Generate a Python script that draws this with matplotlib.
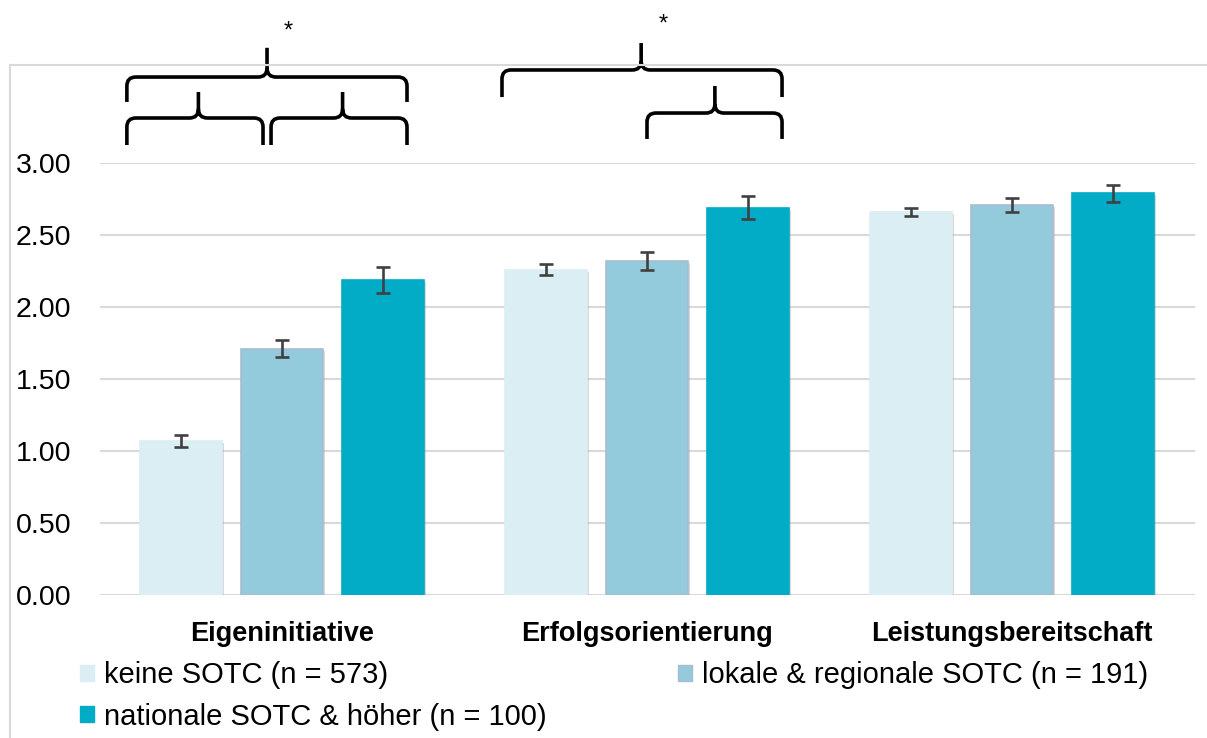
import numpy as np
import matplotlib
matplotlib.use("Agg")
import matplotlib.pyplot as plt
from matplotlib.path import Path
from matplotlib.patches import PathPatch, Patch
from matplotlib.lines import Line2D
import matplotlib.patheffects as pe
import matplotlib.transforms as mtransforms

plt.rcParams['font.family'] = ['Liberation Sans', 'DejaVu Sans']

# ---- data ----
categories = ["Eigeninitiative", "Erfolgsorientierung", "Leistungsbereitschaft"]
series_names = ["keine SOTC (n = 573)", "lokale & regionale SOTC (n = 191)",
                "nationale SOTC & höher (n = 100)"]
keine = [1.07, 2.26, 2.66]
lokale = [1.71, 2.32, 2.71]
nationale = [2.19, 2.69, 2.79]
keine_err = [0.04, 0.04, 0.03]
lokale_err = [0.06, 0.06, 0.05]
nationale_err = [0.09, 0.08, 0.06]
ytick_values = [0.0, 0.5, 1.0, 1.5, 2.0, 2.5, 3.0]

colors = ["#DAEEF3", "#94CBDC", "#02ACC7"]
edges = ["#DAEEF3", "#A9BCCD", "#02ACC7"]

W, H = 1207, 738
fig = plt.figure(figsize=(W / 100, H / 100), dpi=100)
ax_left, ax_right, ax_bottom, ax_top = 99.5, 1194.5, 595, 163
ax = fig.add_axes([ax_left / W, 1 - ax_bottom / H, (ax_right - ax_left) / W,
                   (ax_bottom - ax_top) / H])

x = np.arange(len(categories))
step, width = 0.277, 0.225
series = [keine, lokale, nationale]
errs = [keine_err, lokale_err, nationale_err]
bar_handles = []
for i, (vals, err) in enumerate(zip(series, errs)):
    pos = x + (i - 1) * step
    bars = ax.bar(pos, vals, width, color=colors[i], edgecolor=edges[i],
                  linewidth=1.2, zorder=3)
    for b in bars:
        b.set_path_effects([pe.SimplePatchShadow(offset=(1.5, -1.5),
                                                 shadow_rgbFace='#9a9a9a', alpha=0.35),
                            pe.Normal()])
    ax.errorbar(pos, vals, yerr=err, fmt='none', ecolor='#404040',
                elinewidth=1.9, capsize=5.2, capthick=1.9, zorder=4)
    bar_handles.append(Patch(facecolor=colors[i], edgecolor=edges[i], linewidth=1.0))

ax.set_xlim(-0.5, 2.5)
ax.set_ylim(0, 3.0)
ax.set_yticks(ytick_values)
ax.set_yticklabels([f"{v:.2f}" for v in ytick_values], fontsize=20.5)
ax.set_xticks(x)
ax.set_xticklabels(categories, fontsize=19.5, fontweight='bold')
ax.tick_params(axis='y', length=0)
ax.tick_params(axis='x', length=0, pad=19)
ax.yaxis.grid(True, color='#d9d9d9', linewidth=1.5, zorder=0)
ax.set_axisbelow(True)
for s in ax.spines.values():
    s.set_visible(False)
for lab in ax.get_yticklabels():
    lab.set_horizontalalignment('left')
    lab.set_transform(mtransforms.blended_transform_factory(fig.transFigure, ax.transData))
    lab.set_position((16 / W, lab.get_position()[1]))

# ---- significance braces ----
rx, ry = 9 / 365, 9 / 144


def brace(x0, x1, xp, yh, yb, ytop):
    verts = [(x0, yb), (x0, yh - ry), (x0, yh), (x0 + rx, yh),
             (xp - rx, yh), (xp, yh), (xp, yh + ry), (xp, ytop),
             (xp, yh + ry), (xp, yh), (xp + rx, yh),
             (x1 - rx, yh), (x1, yh), (x1, yh - ry), (x1, yb)]
    codes = [Path.MOVETO, Path.LINETO, Path.CURVE3, Path.CURVE3,
             Path.LINETO, Path.CURVE3, Path.CURVE3, Path.LINETO,
             Path.MOVETO, Path.CURVE3, Path.CURVE3,
             Path.LINETO, Path.CURVE3, Path.CURVE3, Path.LINETO]
    p = PathPatch(Path(verts, codes), facecolor='none', edgecolor='black',
                  linewidth=2.6, clip_on=False, zorder=5, capstyle='butt')
    ax.add_patch(p)


brace(-0.425, 0.3425, -0.041, 3.597, 3.424, 3.80)
brace(-0.425, -0.052, -0.229, 3.3125, 3.125, 3.493)
brace(-0.030, 0.3425, 0.166, 3.3125, 3.125, 3.493)
brace(0.6027, 1.370, 0.984, 3.646, 3.458, 3.833)
brace(1.0, 1.370, 1.186, 3.347, 3.167, 3.535)
ax.text(0.0164, 3.91, "*", ha='center', va='center', fontsize=17, clip_on=False)
ax.text(1.044, 3.96, "*", ha='center', va='center', fontsize=17, clip_on=False)

# ---- chart border (top and left) ----
fig.add_artist(Line2D([10 / W, 10 / W], [0, 1 - 65 / H], transform=fig.transFigure,
                      color='#d9d9d9', linewidth=1.5))
fig.add_artist(Line2D([10 / W, 1206 / W], [1 - 65 / H, 1 - 65 / H],
                      transform=fig.transFigure, color='#d9d9d9', linewidth=1.5))

# ---- legend ----
order = [0, 2, 1]
leg = fig.legend([bar_handles[i] for i in order], [series_names[i] for i in order],
                 loc='upper left', bbox_to_anchor=(80 / W, 1 - 661 / H), ncol=2,
                 frameon=False, fontsize=21, handlelength=0.48, handleheight=0.48,
                 handletextpad=0.34, columnspacing=4.5, labelspacing=0.47,
                 borderpad=0, borderaxespad=0)

fig.savefig("out.png", dpi=100)
